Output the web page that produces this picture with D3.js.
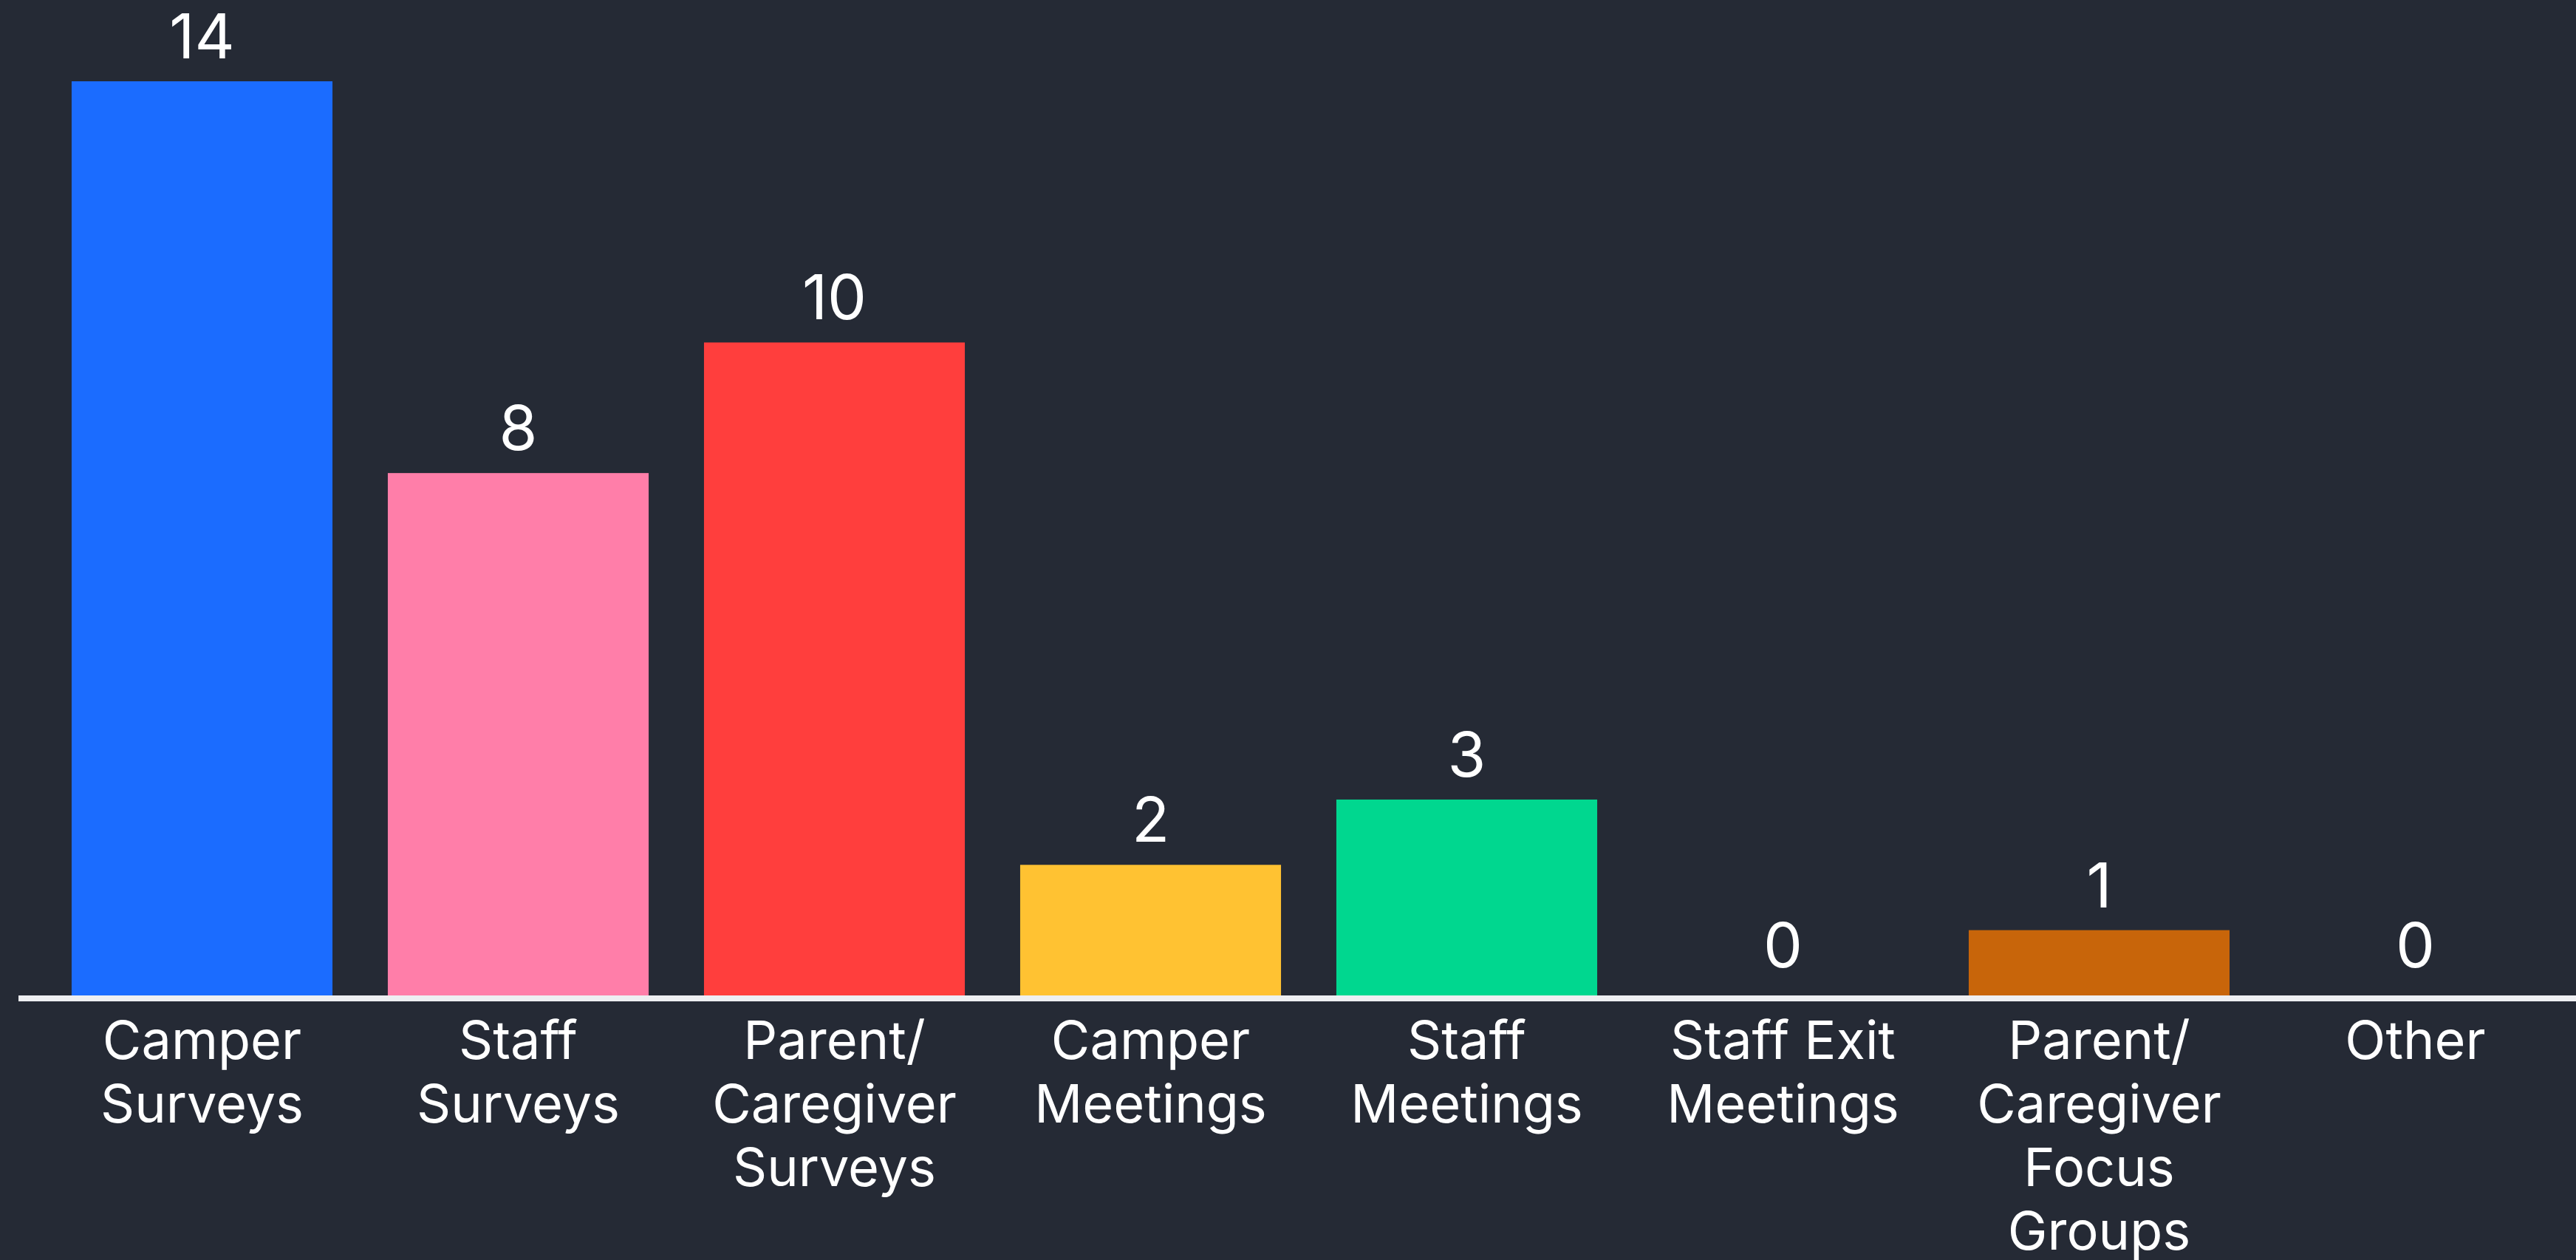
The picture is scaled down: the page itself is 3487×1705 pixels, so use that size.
<!DOCTYPE html>
<html>
<head>
<meta charset="utf-8">
<script src="https://cdn.jsdelivr.net/npm/d3@7"></script>
<style>
  html, body { margin: 0; padding: 0; background: #252a35; overflow: hidden; }
  svg { display: block; }
  text { font-family: Inter, "Noto Sans", sans-serif; fill: #ffffff; }
</style>
</head>
<body>
<div id="chart"></div>
<script>
const categories = ["Camper Surveys", "Staff Surveys", "Parent/Caregiver Surveys", "Camper Meetings",
                    "Staff Meetings", "Staff Exit Meetings", "Parent/Caregiver Focus Groups", "Other"];
const tickLines = [
  ["Camper", "Surveys"],
  ["Staff", "Surveys"],
  ["Parent/", "Caregiver", "Surveys"],
  ["Camper", "Meetings"],
  ["Staff", "Meetings"],
  ["Staff Exit", "Meetings"],
  ["Parent/", "Caregiver", "Focus", "Groups"],
  ["Other"]
];
const values = [14, 8, 10, 2, 3, 0, 1, 0];
// the two zero bars never show, so their colours do not matter
const colors = ["#1b6cff", "#ff7ea9", "#ff3e3d", "#ffc232", "#00d78f", "#7a5cff", "#c8650a", "#888888"];

const width = 3487, height = 1705;
const baseY = 1347;

const svg = d3.select("#chart").append("svg")
    .attr("width", width)
    .attr("height", height);

const x = d3.scaleBand()
    .domain(categories)
    .range([59.5, 59.5 + 8 * 428])
    .paddingInner(0.175)
    .paddingOuter(0.0875);

const y = d3.scaleLinear()
    .domain([0, 14])
    .range([baseY, 110]);

// bars
svg.selectAll(".bar")
  .data(values)
  .enter().append("rect")
    .attr("class", "bar")
    .attr("x", (d, i) => x(categories[i]))
    .attr("width", x.bandwidth())
    .attr("y", d => y(d))
    .attr("height", d => baseY - y(d))
    .attr("fill", (d, i) => colors[i]);

// baseline
svg.append("line")
    .attr("x1", 25).attr("x2", width)
    .attr("y1", baseY + 4).attr("y2", baseY + 4)
    .attr("stroke", "#eeeff2")
    .attr("stroke-width", 8);

// value labels
svg.selectAll(".val")
  .data(values)
  .enter().append("text")
    .attr("class", "val")
    .attr("x", (d, i) => x(categories[i]) + x.bandwidth() / 2)
    .attr("y", d => y(d) - (d === 0 ? 38 : 31))
    .attr("text-anchor", "middle")
    .style("font-size", "84px")
    .text(d => d);

// category labels, wrapped
const lab = svg.selectAll(".cat")
  .data(categories)
  .enter().append("text")
    .attr("class", "cat")
    .attr("text-anchor", "middle")
    .attr("x", d => x(d) + x.bandwidth() / 2)
    .attr("y", 1435)
    .style("font-size", "72px");

lab.each(function(d, i) {
  d3.select(this).selectAll("tspan")
    .data(tickLines[i])
    .enter().append("tspan")
      .attr("x", x(d) + x.bandwidth() / 2)
      .attr("y", (t, j) => 1433 + j * 86)
      .text(t => t);
});
</script>
</body>
</html>
